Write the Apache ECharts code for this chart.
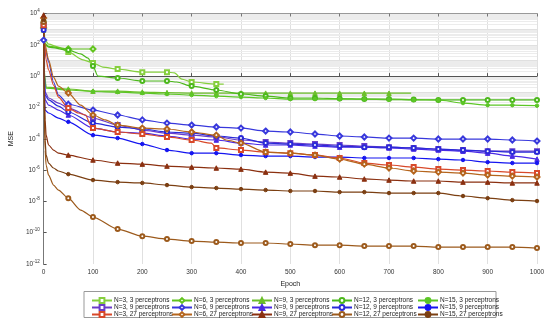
<!DOCTYPE html>
<html><head><meta charset="utf-8">
<script src="https://cdn.jsdelivr.net/npm/echarts@6/dist/echarts.min.js"></script>
<style>html,body{margin:0;padding:0;background:#fff}#c{width:550px;height:327px}</style>
</head><body><div id="c"></div>
<script>
// ---- data (MSE vs epoch) ----
const xTickLabels = ['0','100','200','300','400','500','600','700','800','900','1000'];
const yTickExponents = [-12,-10,-8,-6,-4,-2,0,2,4];
const names = [
 'N=3, 3 perceptrons','N=6, 3 perceptrons','N=9, 3 perceptrons','N=12, 3 perceptrons','N=15, 3 perceptrons',
 'N=3, 9 perceptrons','N=6, 9 perceptrons','N=9, 9 perceptrons','N=12, 9 perceptrons','N=15, 9 perceptrons',
 'N=3, 27 perceptrons','N=6, 27 perceptrons','N=9, 27 perceptrons','N=12, 27 perceptrons','N=15, 27 perceptrons'
];
const epFull = [0,50,100,150,200,250,300,350,400,450,500,550,600,650,700,750,800,850,900,950,1000];

// 3 perceptrons
const ep_N3_3 = [0,3,10,30,50,80,100,120,150,200,250,265,280,300,350,365];
const mse_N3_3 = [1.8e3,2.0e2,1.1e2,7.2e1,3.5e1,1.1e1,6.9,3.8,2.8,1.8,1.8,1.6,6.5e-1,4.2e-1,3.1e-1,3.1e-1];
const ep_N6_3 = [0,2,10,50,100];
const mse_N6_3 = [1.2e3,1.3e2,8.0e1,5.4e1,5.4e1];
const ep_N9_3 = [0,2,5,50,100,150,200,250,300,350,400,450,500,550,600,650,700,745];
const mse_N9_3 = [8.8e2,1.2,2.0e-1,1.5e-1,1.1e-1,1.1e-1,9.6e-2,8.9e-2,8.3e-2,8.3e-2,8.3e-2,8.2e-2,8.2e-2,8.2e-2,8.1e-2,8.1e-2,8.1e-2,8.1e-2];
const ep_N12_3 = [0,3,10,50,75,90,100,110,150,200,250,270,300,350,400,450,500,550,600,650,700,750,800,850,900,950,1000];
const mse_N12_3 = [2.9e3,9.7e1,7.2e1,4.6e1,2.6e1,1.4e1,4.4,1.0,7.6e-1,4.9e-1,4.9e-1,4.2e-1,2.3e-1,1.3e-1,7.2e-2,5.3e-2,4.0e-2,4.0e-2,3.7e-2,3.4e-2,3.4e-2,3.2e-2,3.0e-2,3.0e-2,3.0e-2,3.0e-2,3.0e-2];
const ep_N15_3 = [0,2,5,50,100,150,200,250,300,350,400,450,500,550,600,650,700,750,800,850,900,950,1000];
const mse_N15_3 = [3.8e3,7.6e-1,1.7e-1,1.3e-1,1.04e-1,9.6e-2,8.3e-2,7.2e-2,6.2e-2,5.3e-2,4.6e-2,4.0e-2,3.4e-2,3.4e-2,3.4e-2,3.4e-2,3.2e-2,3.0e-2,3.0e-2,1.9e-2,1.4e-2,1.4e-2,1.3e-2];

// 9 perceptrons
const epEarly9 = [0,1,3,10,30];
const ep_N3_9 = epEarly9.concat(epFull.slice(1));
const mse_N3_9 = [1.8e3,5.1,9.6e-2,4.0e-2,1.9e-2, 9.1e-3,2.1e-3,7.5e-4,3.6e-4,2.3e-4,1.7e-4,1.3e-4,8.3e-5,6.2e-5,5.3e-5,4.6e-5,4.0e-5,3.4e-5,2.9e-5,2.6e-5,2.2e-5,1.9e-5,1.6e-5,1.6e-5,1.6e-5];
const ep_N6_9 = [0,5,10,20,30].concat(epFull.slice(1));
const mse_N6_9 = [2.0e2,3.5e1,8.0,4.2e-1,6.2e-2, 1.6e-2,6.8e-3,3.3e-3,1.6e-3,1.0e-3,7.5e-4,5.6e-4,4.8e-4,3.1e-4,2.7e-4,2.0e-4,1.5e-4,1.3e-4,1.1e-4,1.1e-4,9.6e-5,9.6e-5,9.6e-5,8.3e-5,7.1e-5];
const ep_N9_9 = epEarly9.concat(epFull.slice(1));
const mse_N9_9 = [1.8e3,5.6e-1,3.0e-2,1.4e-2,6.8e-3, 3.3e-3,4.8e-4,2.7e-4,2.3e-4,1.5e-4,9.6e-5,8.3e-5,5.3e-5,4.0e-5,4.0e-5,3.4e-5,2.9e-5,2.9e-5,2.6e-5,2.2e-5,1.9e-5,1.6e-5,1.2e-5,7.8e-6,5.0e-6];
const ep_N12_9 = epEarly9.concat(epFull.slice(1));
const mse_N12_9 = [8.8e2,2.5,6.2e-2,3.0e-2,1.2e-2, 5.1e-3,1.0e-3,5.6e-4,4.2e-4,2.7e-4,2.3e-4,1.5e-4,1.1e-4,5.3e-5,4.6e-5,4.0e-5,3.4e-5,2.9e-5,2.9e-5,2.6e-5,2.2e-5,1.9e-5,1.6e-5,1.4e-5,1.4e-5];
const ep_N15_9 = epEarly9.concat(epFull.slice(1));
const mse_N15_9 = [3.8e3,1.3e-1,6.8e-3,4.4e-3,2.1e-3, 1.2e-3,1.7e-4,1.1e-4,4.6e-5,1.9e-5,1.2e-5,1.2e-5,9.1e-6,7.8e-6,7.8e-6,6.8e-6,6.8e-6,5.9e-6,5.9e-6,5.9e-6,5.0e-6,4.4e-6,3.2e-6,2.8e-6,2.8e-6];

// 27 perceptrons
const ep_N3_27 = [0,2,5,10,20,30,50,70,85,95,100,150,200,250,300,340,350,400,450,500,550,600,650,700,750,800,850,900,950,1000];
const mse_N3_27 = [1.8e3,9.7e1,1.1e1,2.5,2.7e-1,4.6e-2,9.1e-3,4.4e-3,3.3e-3,7.5e-4,4.8e-4,2.7e-4,2.0e-4,1.3e-4,8.3e-5,5.3e-5,2.6e-5,1.9e-5,1.4e-5,1.2e-5,9.1e-6,5.9e-6,2.8e-6,2.1e-6,1.55e-6,1.15e-6,1.0e-6,8.7e-7,7.4e-7,6.4e-7];
const ep_N6_27 = [0,2,10,20,30,50,75,100,125,150,200,250,300,350,370,400,450,500,550,600,650,700,750,800,850,900,950,1000];
const mse_N6_27 = [5.1e3,1.3e2,1.1e1,8.7e-1,2.3e-1,8.3e-2,1.4e-2,3.3e-3,1.6e-3,7.5e-4,4.8e-4,4.2e-4,2.7e-4,1.7e-4,8.3e-5,5.3e-5,1.4e-5,1.2e-5,9.1e-6,5.0e-6,2.4e-6,1.35e-6,8.7e-7,7.4e-7,6.4e-7,4.8e-7,4.1e-7,3.6e-7];
const epEarly27 = [0,1,3,5,10,20,30];
const ep_N9_27 = epEarly27.concat(epFull.slice(1));
const mse_N9_27 = [8.0e3,5.6e-1,1.6e-3,1.7e-4,4.0e-5,1.9e-5,1.2e-5, 9.1e-6,4.4e-6,2.8e-6,2.4e-6,1.8e-6,1.55e-6,1.35e-6,1.15e-6,7.4e-7,6.4e-7,4.1e-7,3.6e-7,2.7e-7,2.3e-7,2.0e-7,2.0e-7,1.7e-7,1.7e-7,1.5e-7,1.5e-7];
const ep_N12_27 = [0,1,3,5,10,20,30,50,75].concat(epFull.slice(2));
const mse_N12_27 = [2.9e3,3.0e-2,1.9e-5,2.1e-6,4.8e-7,1.1e-7,5.3e-8,1.6e-8,2.8e-9, 1.0e-9,1.7e-10,6.0e-11,3.9e-11,2.9e-11,2.5e-11,2.2e-11,2.2e-11,1.9e-11,1.6e-11,1.6e-11,1.4e-11,1.4e-11,1.4e-11,1.2e-11,1.2e-11,1.2e-11,1.2e-11,1.04e-11];
const ep_N15_27 = epEarly27.concat(epFull.slice(1));
const mse_N15_27 = [3.8e3,1.3e-1,8.3e-5,9.1e-6,2.8e-6,1.35e-6,8.7e-7, 5.5e-7,2.3e-7,1.7e-7,1.5e-7,1.1e-7,8.2e-8,7.1e-8,6.1e-8,5.3e-8,4.6e-8,4.6e-8,3.9e-8,3.9e-8,3.4e-8,3.4e-8,3.4e-8,2.2e-8,1.6e-8,1.2e-8,1.05e-8];

const epochs = [ep_N3_3,ep_N6_3,ep_N9_3,ep_N12_3,ep_N15_3, ep_N3_9,ep_N6_9,ep_N9_9,ep_N12_9,ep_N15_9, ep_N3_27,ep_N6_27,ep_N9_27,ep_N12_27,ep_N15_27];
const values = [mse_N3_3,mse_N6_3,mse_N9_3,mse_N12_3,mse_N15_3, mse_N3_9,mse_N6_9,mse_N9_9,mse_N12_9,mse_N15_9, mse_N3_27,mse_N6_27,mse_N9_27,mse_N12_27,mse_N15_27];

// ---- styles ----
const colors = [
 '#86cf3e','#62c41e','#6cbf2a','#4cb81c','#5cc626',
 '#6a3dc8','#3838dc','#4a2ae6','#2a2ad8','#1515f0',
 '#d8492a','#b5651d','#8b3010','#9c5a1c','#7b3f12'
];
const symByN = ['emptyRect','emptyDiamond','triangle','emptyCircle','circle'];
const sizeByN = [4,5,4.5,4,3.5];

const FONT = 'Liberation Sans, Arial, sans-serif';
const series = names.map((nm, i) => {
  const nIdx = i % 5;
  const sym = symByN[nIdx];
  const data = epochs[i].map((e, k) => ({value: [e, values[i][k]], symbol: (e % 50 === 0) ? sym : 'none'}));
  return {
    name: nm, type: 'line', data, symbol: sym, symbolSize: sizeByN[nIdx], showAllSymbol: true,
    smooth: 0.25, smoothMonotone: 'x', color: colors[i],
    lineStyle: {width: 1.2, color: colors[i]},
    itemStyle: {color: colors[i], borderColor: colors[i], borderWidth: 1},
    emphasis: {disabled: true}, z: 3
  };
});

// gridlines: every decade + minor (2..9 x 10^n)
const decadeGrid = [];
for (let n = -11; n < 4; n++) decadeGrid.push({yAxis: Math.pow(10, n), lineStyle: {color: '#e0e0e0'}});
const minorGrid = [];
for (let n = -12; n < 4; n++) for (let k = 2; k <= 9; k++) minorGrid.push({yAxis: k * Math.pow(10, n)});
series.push({
  name: '_grid', type: 'line', data: [], z: 0, silent: true,
  markLine: {silent: true, z: 0, symbol: ['none','none'], label: {show: false}, animation: false,
    lineStyle: {color: '#ececec', width: 1, type: 'solid'}, emphasis: {disabled: true},
    data: minorGrid.concat(decadeGrid)}
});

const colLeft = [86, 166, 246, 326, 412];
const legends = colLeft.map((l, c) => ({
  orient: 'vertical', left: l, top: 292, itemGap: 0, itemWidth: 20, itemHeight: 6,
  data: [names[c], names[5 + c], names[10 + c]],
  textStyle: {fontSize: 6.5, color: '#222', fontFamily: FONT, padding: [0,0,0,-3]},
  selectedMode: false, z: 5
}));

const option = {
  animation: false,
  backgroundColor: '#fff',
  textStyle: {fontFamily: FONT},
  grid: {left: 35, right: 13, top: 13.5, bottom: 63, show: false},
  legend: legends,
  graphic: [{type: 'rect', shape: {x: 84, y: 291.5, width: 412, height: 26}, style: {fill: 'none', stroke: '#999', lineWidth: 1}, z: 4}],
  xAxis: [{
    type: 'value', min: 0, max: 1000, interval: 100,
    axisLine: {show: true, lineStyle: {color: '#555'}},
    axisTick: {show: true, inside: true, length: 3, lineStyle: {color: '#555'}},
    splitLine: {show: true, lineStyle: {color: '#e0e0e0'}},
    axisLabel: {fontSize: 6.5, color: '#333', margin: 5, formatter: (v) => xTickLabels[Math.round(v / 100)]},
    name: 'Epoch', nameLocation: 'middle', nameGap: 13, nameTextStyle: {fontSize: 7, color: '#222'}
  }, {
    type: 'value', position: 'top', min: 0, max: 1000, interval: 100,
    axisLine: {show: true, lineStyle: {color: '#999'}},
    axisTick: {show: true, inside: true, length: 3, lineStyle: {color: '#777'}},
    axisLabel: {show: false}, splitLine: {show: false}
  }],
  yAxis: [{
    // data axis (log scale)
    type: 'log', logBase: 10, min: 1e-12, max: 1e4, splitNumber: 8,
    axisLine: {show: true, lineStyle: {color: '#555'}},
    axisTick: {show: false},
    splitLine: {show: false},
    axisLabel: {show: false}
  }, {
    // right box edge
    type: 'log', logBase: 10, min: 1e-12, max: 1e4, splitNumber: 8, position: 'right',
    axisLine: {show: true, lineStyle: {color: '#777'}},
    axisTick: {show: false},
    axisLabel: {show: false}, splitLine: {show: false}
  }, {
    // tick-label axis in decades (exponent of the log axis above)
    type: 'value', min: -12, max: 4, interval: 2, position: 'left',
    axisLine: {show: false},
    axisTick: {show: true, inside: true, length: 3, lineStyle: {color: '#555'}},
    splitLine: {show: false},
    axisLabel: {margin: 4, color: '#333', showMinLabel: true, showMaxLabel: true,
      formatter: v => '{b|10}{s|' + yTickExponents[Math.round((v + 12) / 2)] + '}',
      rich: {b: {fontSize: 6.5, color: '#333', fontFamily: FONT},
             s: {fontSize: 4.5, color: '#333', fontFamily: FONT, padding: [0, 0, 5, 0]}}},
    name: 'MSE', nameLocation: 'middle', nameGap: 24, nameTextStyle: {fontSize: 7, color: '#222'}
  }],
  series
};

const chart = echarts.init(document.getElementById('c'), null, {renderer: 'canvas'});
chart.setOption(option);
</script>
</body></html>
